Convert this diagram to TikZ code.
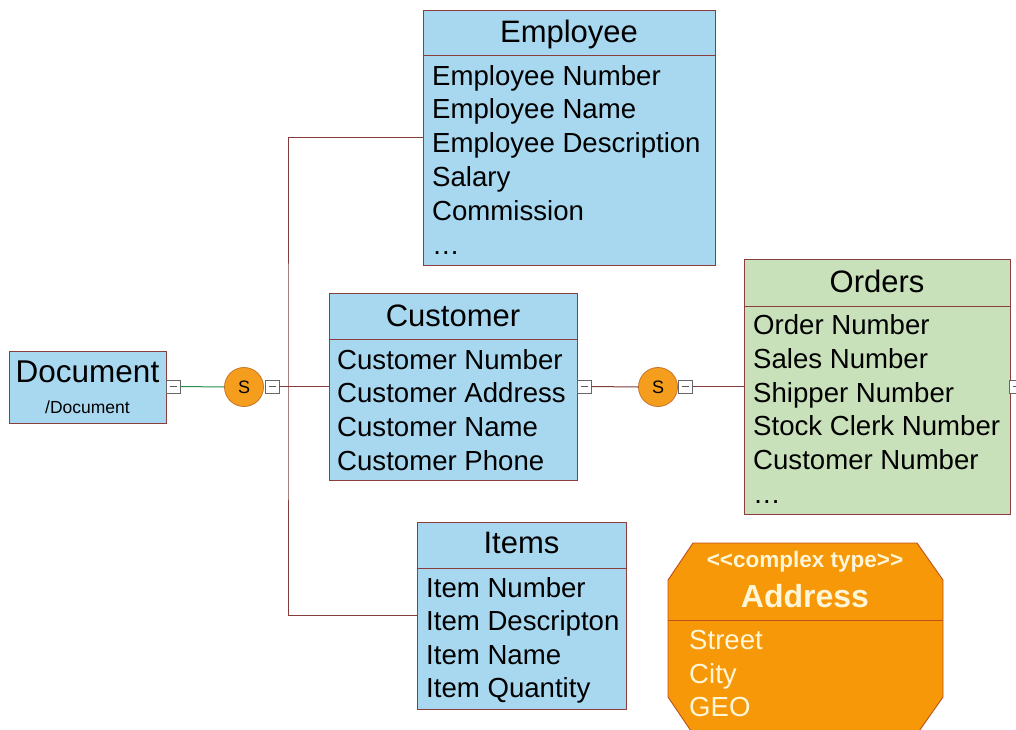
\documentclass[tikz,border=0pt]{standalone}
\usepackage{fontspec}
\setmainfont{Liberation Sans}
\definecolor{bluefill}{RGB}{168,216,240}
\definecolor{greenfill}{RGB}{200,225,186}
\definecolor{orangefill}{RGB}{246,152,8}
\definecolor{circfill}{RGB}{245,158,30}
\definecolor{circline}{RGB}{200,115,40}
\definecolor{boxline}{RGB}{140,62,62}
\definecolor{conline}{RGB}{130,60,60}
\definecolor{greenline}{RGB}{40,140,80}
\definecolor{addrline}{RGB}{190,80,30}
\definecolor{addrtext}{RGB}{255,246,215}
\tikzset{
  ent/.style={draw=boxline, line width=0.9pt, fill=bluefill, inner sep=0pt, outer sep=0pt, rectangle},
  ord/.style={ent, fill=greenfill},
  hline/.style={draw=boxline, line width=0.9pt},
  title/.style={font=\fontsize{31}{36}\selectfont, inner sep=0pt, anchor=base},
  row/.style={font=\fontsize{27.6}{32}\selectfont, inner sep=0pt, anchor=base west},
  minusbox/.style={draw=gray!80!black, fill=white, line width=0.7pt, minimum width=14pt, minimum height=13pt, inner sep=0pt, outer sep=0pt,
    path picture={\draw[gray!70!black, line width=0.8pt] ([xshift=-3.5pt]path picture bounding box.center) -- ([xshift=3.5pt]path picture bounding box.center);}},
  seq/.style={circle, draw=circline, fill=circfill, line width=0.8pt, minimum size=39pt, inner sep=0pt, outer sep=0pt, font=\fontsize{18}{20}\selectfont},
  con/.style={draw=conline, line width=1pt},
  gcon/.style={draw=greenline, line width=1pt},
  atext/.style={text=addrtext, inner sep=0pt}
}
\begin{document}
\begin{tikzpicture}[x=1pt, y=-1pt]
\useasboundingbox[fill=white] (0,0) rectangle (1016,729);
\clip (0,0) rectangle (1016,729);

% Employee
\node[ent, minimum width=292pt, minimum height=255pt] (emp) at (569,137.5) {};
\draw[hline] (423,55) -- (715,55);
\node[title] (empt) at (569,42) {Employee};
\node[row] (e1) at (432,85) {Employee Number};
\node[row] (e2) at (432,118.5) {Employee Name};
\node[row] (e3) at (432,152) {Employee Description};
\node[row] (e4) at (432,186) {Salary};
\node[row] (e5) at (432,220) {Commission};
\node[row] (e6) at (432,254) {\dots};

% Customer
\node[ent, minimum width=248pt, minimum height=187pt] (cust) at (453,386.5) {};
\draw[hline] (329,339) -- (577,339);
\node[title] (custt) at (453,326) {Customer};
\node[row] (c1) at (337,369) {Customer Number};
\node[row] (c2) at (337,402.5) {Customer Address};
\node[row] (c3) at (337,436) {Customer Name};
\node[row] (c4) at (337,470) {Customer Phone};

% Items
\node[ent, minimum width=209pt, minimum height=187pt] (items) at (521.5,615.5) {};
\draw[hline] (417,568) -- (626,568);
\node[title] (itemst) at (521.5,553) {Items};
\node[row] (i1) at (426,597) {Item Number};
\node[row] (i2) at (426,630.5) {Item Descripton};
\node[row] (i3) at (426,664) {Item Name};
\node[row] (i4) at (426,697.5) {Item Quantity};

% Orders
\node[ord, minimum width=266pt, minimum height=255pt] (ord) at (877,386.5) {};
\draw[hline] (744,306) -- (1010,306);
\node[title] (ordt) at (877,292) {Orders};
\node[row] (o1) at (753,334) {Order Number};
\node[row] (o2) at (753,368) {Sales Number};
\node[row] (o3) at (753,402) {Shipper Number};
\node[row] (o4) at (753,435.5) {Stock Clerk Number};
\node[row] (o5) at (753,469) {Customer Number};
\node[row] (o6) at (753,503) {\dots};

% Document
\node[ent, minimum width=157pt, minimum height=72pt] (doc) at (87.5,387) {};
\node[title, font=\fontsize{31.5}{36}\selectfont] (doct) at (87.5,382) {Document};
\node[inner sep=0pt, anchor=base, font=\fontsize{17.5}{20}\selectfont] (docp) at (87.5,413) {/Document};

% minus boxes and sequence circles
\node[minusbox] (m1) at (173,386.5) {};
\node[seq] (s1) at (244,387) {S};
\node[minusbox] (m2) at (272,386.5) {};
\node[minusbox] (m3) at (584,386.5) {};
\node[seq] (s2) at (658,387) {S};
\node[minusbox] (m4) at (685.5,386.5) {};
\node[minusbox] (m5) at (1016,386.5) {};

% connectors
\draw[gcon] (m1.east) -- (s1.west);
\draw[con] (m2.east) -- (cust.west);
\coordinate (j) at (288,386.5);
\draw[con] (emp.west) -| (j) |- (items.west);
\draw[con] (m3.east) -- (s2.west);
\draw[con] (m4.east) -- (ord.west);

% Address complex type
\draw[draw=addrline, line width=0.9pt, fill=orangefill]
  (693,543) -- (917,543) -- (943,580) -- (943,697) -- (917,734) -- (693,734) -- (668,697) -- (668,580) -- cycle;
\draw[draw=addrline, line width=0.9pt] (668,620) -- (943,620);
\node[atext, anchor=base, font=\bfseries\fontsize{22.5}{26}\selectfont] (addrst) at (805,567) {<\kern0pt<complex type>\kern0pt>};
\node[atext, anchor=base, font=\bfseries\fontsize{32}{36}\selectfont] (addrt) at (805,607) {Address};
\node[atext, anchor=base west, font=\fontsize{27.6}{32}\selectfont] (a1) at (689,649) {Street};
\node[atext, anchor=base west, font=\fontsize{27.6}{32}\selectfont] (a2) at (689,683) {City};
\node[atext, anchor=base west, font=\fontsize{27.6}{32}\selectfont] (a3) at (689,716) {GEO};
\end{tikzpicture}
\end{document}
